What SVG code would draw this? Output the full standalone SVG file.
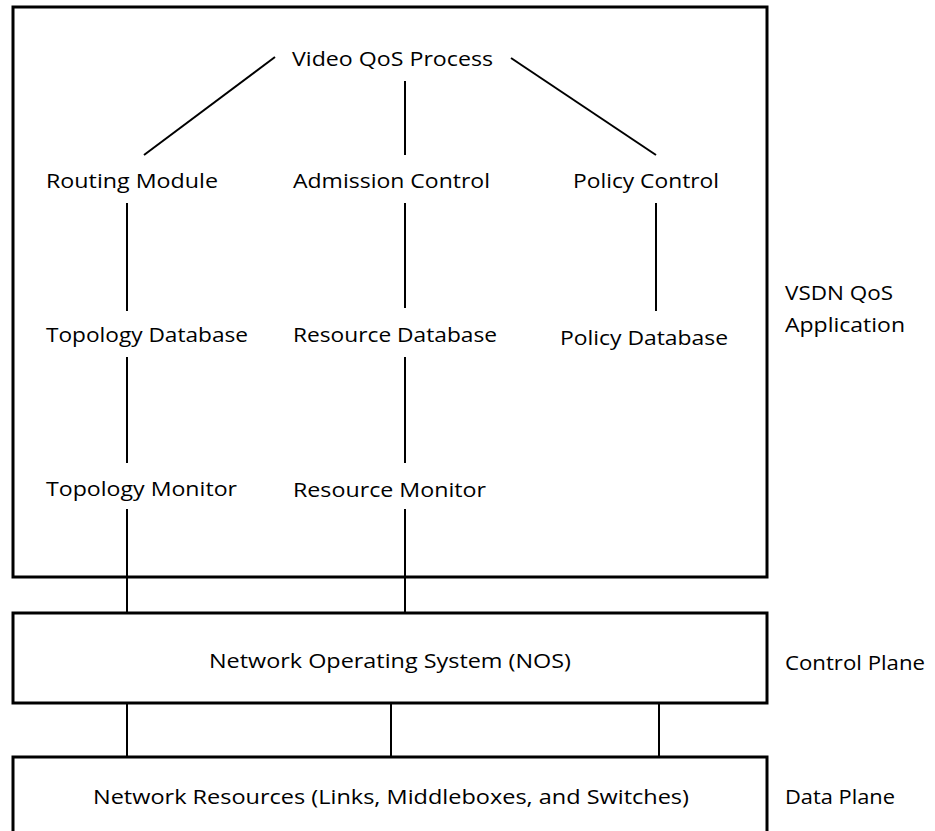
<svg xmlns="http://www.w3.org/2000/svg" width="935" height="831" viewBox="0 0 935 831">
<style>
text{font-family:"Open Sans","Noto Sans","Liberation Sans",sans-serif;font-size:20px;fill:#000}
.box{fill:#fff;stroke:#000;stroke-width:3}
.ln{stroke:#000;stroke-width:2;fill:none}
</style>
<rect width="935" height="831" fill="#fff"/>
<g id="app-box"><rect class="box" x="13" y="7" width="754" height="570"/></g>
<g id="nos"><rect class="box" x="13" y="613" width="754" height="90"/>
<text x="209" y="668" textLength="362" lengthAdjust="spacingAndGlyphs">Network Operating System (NOS)</text></g>
<g id="resources"><rect class="box" x="13" y="757" width="754" height="100"/>
<text x="93" y="804" textLength="596" lengthAdjust="spacingAndGlyphs">Network Resources (Links, Middleboxes, and Switches)</text></g>
<g id="video-qos"><text x="292" y="66" textLength="201" lengthAdjust="spacingAndGlyphs">Video QoS Process</text></g>
<g id="routing"><text x="46" y="188" textLength="172" lengthAdjust="spacingAndGlyphs">Routing Module</text></g>
<g id="admission"><text x="293" y="188" textLength="197" lengthAdjust="spacingAndGlyphs">Admission Control</text></g>
<g id="policy"><text x="573" y="188" textLength="146" lengthAdjust="spacingAndGlyphs">Policy Control</text></g>
<g id="topo-db"><text x="46" y="342" textLength="202" lengthAdjust="spacingAndGlyphs">Topology Database</text></g>
<g id="res-db"><text x="293" y="342" textLength="204" lengthAdjust="spacingAndGlyphs">Resource Database</text></g>
<g id="pol-db"><text x="560" y="345" textLength="168" lengthAdjust="spacingAndGlyphs">Policy Database</text></g>
<g id="topo-mon"><text x="46" y="496" textLength="191" lengthAdjust="spacingAndGlyphs">Topology Monitor</text></g>
<g id="res-mon"><text x="293" y="497" textLength="193" lengthAdjust="spacingAndGlyphs">Resource Monitor</text></g>
<g id="labels">
<text x="785" y="300" textLength="108" lengthAdjust="spacingAndGlyphs">VSDN QoS</text>
<text x="785" y="332" textLength="120" lengthAdjust="spacingAndGlyphs">Application</text>
<text x="785" y="670" textLength="140" lengthAdjust="spacingAndGlyphs">Control Plane</text>
<text x="785" y="804" textLength="110" lengthAdjust="spacingAndGlyphs">Data Plane</text>
</g>
<g id="connectors" class="ln">
<line x1="275" y1="57" x2="144" y2="155"/>
<line x1="405" y1="81" x2="405" y2="155"/>
<line x1="511" y1="58" x2="656" y2="155"/>
<line x1="127" y1="203" x2="127" y2="311"/>
<line x1="405" y1="203" x2="405" y2="308"/>
<line x1="656" y1="203" x2="656" y2="311"/>
<line x1="127" y1="357" x2="127" y2="463"/>
<line x1="405" y1="357" x2="405" y2="463"/>
<line x1="127" y1="509" x2="127" y2="613"/>
<line x1="405" y1="509" x2="405" y2="613"/>
<line x1="127" y1="703" x2="127" y2="757"/>
<line x1="391" y1="703" x2="391" y2="757"/>
<line x1="659" y1="703" x2="659" y2="757"/>
</g>
</svg>
